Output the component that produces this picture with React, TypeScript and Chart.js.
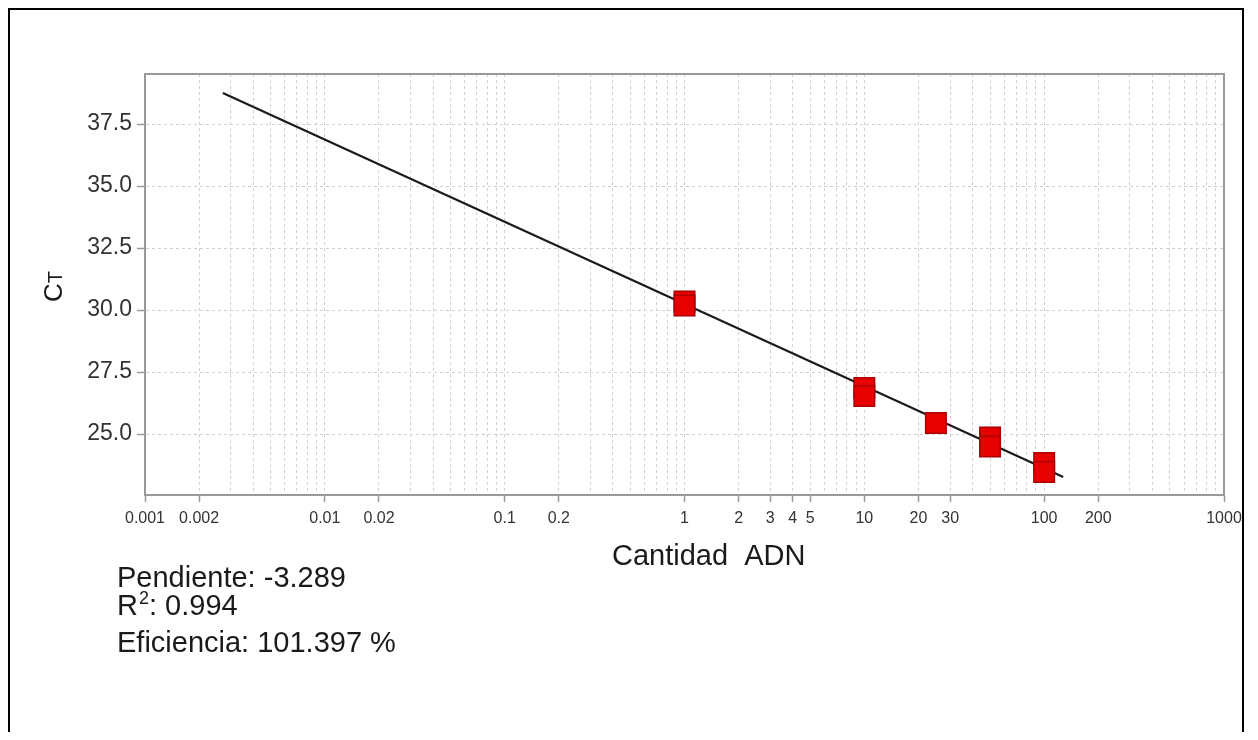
import React, { useEffect, useRef } from 'react';
import { Chart, registerables } from 'chart.js';

Chart.register(...registerables);

// ---- data ----
const concentrations = [1, 1, 10, 10, 25, 50, 50, 100, 100];
const ctValues = [30.34, 30.18, 26.86, 26.53, 25.44, 24.86, 24.5, 23.83, 23.47];
const fitX = [0.00271, 127.6];
const fitY = [38.75, 23.27];
const xTickLabels = ['0.001', '0.002', '0.01', '0.02', '0.1', '0.2', '1', '2', '3', '4', '5', '10', '20', '30', '100', '200', '1000'];
const yTickValues = [25, 27.5, 30, 32.5, 35, 37.5];
const slopeText = 'Pendiente: -3.289';
const r2Value = '0.994';
const efficiencyText = 'Eficiencia: 101.397 %';
const xTitle = 'Cantidad  ADN';

const FONT = '"Liberation Sans", Arial, Helvetica, sans-serif';

const decades = [-3, -2, -1, 0, 1, 2];
const xGrid: number[] = [];
decades.forEach((e) => {
  for (let k = 1; k <= 9; k++) xGrid.push(Number((k * Math.pow(10, e)).toPrecision(6)));
});
xGrid.push(1000);

const labelFor = (v: any): string => {
  if (v === undefined || v === null) return '';
  const found = xTickLabels.find((l) => Math.abs(Number(l) - v) <= Math.abs(v) * 1e-6);
  return found || '';
};

const overlay = {
  id: 'overlay',
  afterDraw(chart: any) {
    const { ctx, chartArea: a } = chart;
    ctx.save();
    // top & right frame of plot
    ctx.strokeStyle = '#9a9a9a';
    ctx.lineWidth = 2;
    ctx.beginPath();
    ctx.moveTo(a.left, a.top);
    ctx.lineTo(a.right, a.top);
    ctx.lineTo(a.right, a.bottom);
    ctx.stroke();

    ctx.fillStyle = '#1a1a1a';
    ctx.textBaseline = 'alphabetic';
    ctx.textAlign = 'left';

    // x title
    ctx.font = `29px ${FONT}`;
    ctx.fillText(xTitle, 602, 555);

    // stats
    ctx.fillText(slopeText, 107, 577);
    ctx.fillText('R', 107, 605);
    let x = 107 + ctx.measureText('R').width + 1;
    ctx.font = `18px ${FONT}`;
    ctx.fillText('2', x, 594);
    x += ctx.measureText('2').width;
    ctx.font = `29px ${FONT}`;
    ctx.fillText(': ' + r2Value, x, 605);
    ctx.fillText(efficiencyText, 107, 642);

    // y title  C + small T
    ctx.translate(52, 292);
    ctx.rotate(-Math.PI / 2);
    ctx.font = `26px ${FONT}`;
    ctx.fillText('C', 0, 0);
    const wc = ctx.measureText('C').width;
    ctx.font = `20px ${FONT}`;
    ctx.fillText('T', wc, 0);
    ctx.restore();
  },
};

export default function App() {
  const ref = useRef<HTMLCanvasElement | null>(null);

  useEffect(() => {
    if (!ref.current) return;
    const chart = new Chart(ref.current, {
      type: 'scatter',
      data: {
        datasets: [
          {
            data: concentrations.map((c, i) => ({ x: c, y: ctValues[i] })),
            pointStyle: 'rect',
            pointRadius: 14.5,
            pointHoverRadius: 14.5,
            backgroundColor: '#e60000',
            borderColor: '#aa0000',
            borderWidth: 1.5,
            showLine: false,
          },
          {
            data: fitX.map((v, i) => ({ x: v, y: fitY[i] })),
            showLine: true,
            borderColor: '#1a1a1a',
            borderWidth: 2.2,
            pointRadius: 0,
            pointHoverRadius: 0,
          },
        ],
      },
      options: {
        animation: false,
        responsive: false,
        maintainAspectRatio: false,
        layout: { padding: { left: 0, top: 64, right: 18, bottom: 177 } },
        plugins: {
          legend: { display: false },
          tooltip: { enabled: false },
          title: { display: false },
        },
        scales: {
          x: {
            type: 'logarithmic',
            min: 0.001,
            max: 1000,
            afterBuildTicks: (s: any) => {
              s.ticks = xGrid.map((v) => ({ value: v }));
            },
            afterFit: (s: any) => {
              s.height = 60;
              s.paddingLeft = 0;
              s.paddingRight = 0;
            },
            ticks: {
              autoSkip: false,
              maxRotation: 0,
              minRotation: 0,
              padding: 7,
              color: '#333',
              font: { family: FONT, size: 16 },
              callback: (v: any) => labelFor(v),
            },
            grid: {
              color: '#d0d0d0',
              lineWidth: 1,
              tickLength: 7,
              tickWidth: 1.5,
              tickColor: (c: any) => (c.tick && labelFor(c.tick.value) ? '#999' : 'rgba(0,0,0,0)'),
            },
            border: { display: true, color: '#9a9a9a', width: 2, dash: [3, 3] },
          },
          y: {
            type: 'linear',
            min: 22.54,
            max: 39.52,
            afterBuildTicks: (s: any) => {
              s.ticks = yTickValues.map((v) => ({ value: v }));
            },
            afterFit: (s: any) => {
              s.width = 135;
              s.paddingTop = 0;
              s.paddingBottom = 0;
            },
            ticks: {
              padding: 5,
              color: '#333',
              font: { family: FONT, size: 23 },
              callback: (v: any) => Number(v).toFixed(1),
            },
            grid: {
              color: '#d0d0d0',
              lineWidth: 1,
              tickLength: 8,
              tickWidth: 1.5,
              tickColor: '#999',
            },
            border: { display: true, color: '#9a9a9a', width: 2, dash: [3, 3] },
          },
        },
      },
      plugins: [overlay],
    } as any);
    return () => chart.destroy();
  }, []);

  return (
    <div
      style={{
        width: 1236,
        height: 724,
        border: '2px solid #000',
        borderBottom: 'none',
        boxSizing: 'border-box',
        background: '#fff',
        overflow: 'hidden',
      }}
    >
      <canvas ref={ref} width={1232} height={722} style={{ display: 'block' }} />
    </div>
  );
}
